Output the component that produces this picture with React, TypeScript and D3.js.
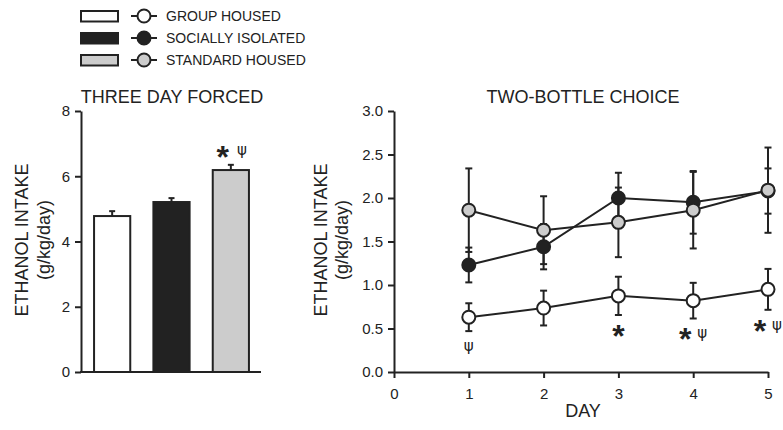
import { useEffect, useRef } from "react";
import * as d3 from "d3";

// legend / groups
const groups = ["GROUP HOUSED", "SOCIALLY ISOLATED", "STANDARD HOUSED"];
const groupFill = ["#ffffff", "#222222", "#cccccc"];

// three day forced (bar chart)
const forcedMean = [4.78, 5.21, 6.19];
const forcedErr = [0.15, 0.12, 0.16];
const forcedTicks = [0, 2, 4, 6, 8];

// two-bottle choice (line chart)
const days = [1, 2, 3, 4, 5];
const dayTicks = [0, 1, 2, 3, 4, 5];
const choiceTicks = [0, 0.5, 1.0, 1.5, 2.0, 2.5, 3.0];
const groupHousedMean = [0.63, 0.735, 0.875, 0.82, 0.95];
const groupHousedErr = [0.16, 0.2, 0.22, 0.205, 0.235];
const isolatedMean = [1.23, 1.44, 2.0, 1.95, 2.08];
const isolatedErr = [0.2, 0.26, 0.29, 0.36, 0.26];
const standardMean = [1.86, 1.63, 1.72, 1.86, 2.09];
const standardErr = [0.48, 0.39, 0.4, 0.44, 0.49];

// significance marks (under group housed points)
const dayStars = [false, false, true, true, true];
const dayPsi = [true, false, false, true, true];

const FONT = "'Liberation Sans', Arial, sans-serif";
const INK = "#222222";

const App = () => {
  const ref = useRef<SVGSVGElement>(null);

  useEffect(() => {
    const svg = d3.select(ref.current);
    svg.selectAll("*").remove();
    const root = svg.append("g").attr("font-family", FONT).attr("fill", INK);

    const star = (g: any, x: number, y: number) =>
      g.append("text").attr("x", x).attr("y", y).attr("text-anchor", "middle")
        .attr("font-size", 32).attr("font-weight", "bold").attr("fill", INK).text("*");
    const psi = (g: any, x: number, y: number) =>
      g.append("text").attr("x", x).attr("y", y).attr("text-anchor", "middle")
        .attr("font-family", "'DejaVu Sans', sans-serif")
        .attr("font-size", 15).attr("fill", INK).text("ψ");

    // ---- legend
    const leg = root.append("g");
    groups.forEach((name, i) => {
      const cy = 16 + i * 22;
      leg.append("rect").attr("x", 81).attr("y", cy - 5).attr("width", 37).attr("height", 10.5)
        .attr("fill", groupFill[i]).attr("stroke", INK).attr("stroke-width", 2);
      leg.append("line").attr("x1", 131).attr("x2", 157).attr("y1", cy).attr("y2", cy)
        .attr("stroke", INK).attr("stroke-width", 2);
      leg.append("circle").attr("cx", 144).attr("cy", cy).attr("r", 6.5)
        .attr("fill", groupFill[i]).attr("stroke", INK).attr("stroke-width", 2);
      leg.append("text").attr("x", 166).attr("y", cy).attr("dy", "0.36em")
        .attr("font-size", 14).text(name);
    });

    // ---- left: three day forced
    const yL = d3.scaleLinear().domain([0, 8]).range([372, 111]);
    const xL = d3.scaleBand<number>().domain([0, 1, 2]).range([81, 262])
      .paddingInner(0.39).paddingOuter(0.22);

    const left = root.append("g");
    const yAxisL = left.append("g").attr("transform", "translate(81,0)")
      .call(d3.axisLeft(yL).tickValues(forcedTicks).tickSize(6).tickSizeOuter(0).tickPadding(5));
    yAxisL.selectAll("text").attr("font-size", 15).attr("fill", INK).attr("font-family", FONT);
    yAxisL.selectAll("line,path").attr("stroke", INK).attr("stroke-width", 2);
    left.append("line").attr("x1", 80).attr("x2", 261).attr("y1", yL(0)).attr("y2", yL(0))
      .attr("stroke", INK).attr("stroke-width", 2);

    forcedMean.forEach((m, i) => {
      const cx = xL(i)! + xL.bandwidth() / 2;
      left.append("line").attr("x1", cx).attr("x2", cx).attr("y1", yL(m)).attr("y2", yL(m + forcedErr[i]))
        .attr("stroke", INK).attr("stroke-width", 2);
      left.append("line").attr("x1", cx - 3).attr("x2", cx + 3)
        .attr("y1", yL(m + forcedErr[i])).attr("y2", yL(m + forcedErr[i]))
        .attr("stroke", INK).attr("stroke-width", 2);
      left.append("rect").attr("x", xL(i)!).attr("y", yL(m)).attr("width", xL.bandwidth())
        .attr("height", yL(0) - yL(m)).attr("fill", groupFill[i]).attr("stroke", INK).attr("stroke-width", 2);
    });
    {
      const cx = xL(2)! + xL.bandwidth() / 2;
      const top = yL(forcedMean[2] + forcedErr[2]);
      star(left, cx - 8, top + 3);
      psi(left, cx + 11, top - 10);
    }
    left.append("text").attr("x", 172).attr("y", 97).attr("dy", "0.36em").attr("text-anchor", "middle")
      .attr("font-size", 18).text("THREE DAY FORCED");
    left.append("text").attr("transform", "translate(22,240) rotate(-90)").attr("dy", "0.36em")
      .attr("text-anchor", "middle").attr("font-size", 18).text("ETHANOL INTAKE");
    left.append("text").attr("transform", "translate(44,240) rotate(-90)").attr("dy", "0.36em")
      .attr("text-anchor", "middle").attr("font-size", 18).text("(g/kg/day)");

    // ---- right: two-bottle choice
    const yR = d3.scaleLinear().domain([0, 3]).range([372, 111]);
    const xR = d3.scaleLinear().domain([0, 5]).range([394, 768]);
    const right = root.append("g");

    const yAxisR = right.append("g").attr("transform", "translate(394,0)")
      .call(d3.axisLeft(yR).tickValues(choiceTicks).tickFormat(d3.format(".1f")).tickSize(6).tickSizeOuter(0).tickPadding(5));
    const xAxisR = right.append("g").attr("transform", `translate(0,${yR(0)})`)
      .call(d3.axisBottom(xR).tickValues(dayTicks).tickFormat(d3.format("d")).tickSize(6).tickSizeOuter(0).tickPadding(10));
    [yAxisR, xAxisR].forEach((a) => {
      a.selectAll("text").attr("font-size", 15).attr("fill", INK).attr("font-family", FONT);
      a.selectAll("line,path").attr("stroke", INK).attr("stroke-width", 2);
    });

    const series = [
      { mean: groupHousedMean, err: groupHousedErr, fill: groupFill[0] },
      { mean: isolatedMean, err: isolatedErr, fill: groupFill[1] },
      { mean: standardMean, err: standardErr, fill: groupFill[2] },
    ];
    const line = d3.line<number>().x((_, i) => xR(days[i])).y((d) => yR(d));

    series.forEach((s) => {
      right.append("path").attr("d", line(s.mean)).attr("fill", "none")
        .attr("stroke", INK).attr("stroke-width", 2);
    });
    series.forEach((s) => {
      s.mean.forEach((m, i) => {
        const cx = xR(days[i]);
        const hi = yR(m + s.err[i]);
        const lo = yR(m - s.err[i]);
        right.append("line").attr("x1", cx).attr("x2", cx).attr("y1", hi).attr("y2", lo)
          .attr("stroke", INK).attr("stroke-width", 2);
        [hi, lo].forEach((yy) => right.append("line").attr("x1", cx - 3.5).attr("x2", cx + 3.5)
          .attr("y1", yy).attr("y2", yy).attr("stroke", INK).attr("stroke-width", 2));
      });
    });
    series.forEach((s) => {
      s.mean.forEach((m, i) => {
        right.append("circle").attr("cx", xR(days[i])).attr("cy", yR(m)).attr("r", 6.5)
          .attr("fill", s.fill).attr("stroke", INK).attr("stroke-width", 2);
      });
    });

    days.forEach((d, i) => {
      const cx = xR(d);
      const lo = yR(groupHousedMean[i] - groupHousedErr[i]);
      const both = dayStars[i] && dayPsi[i];
      if (dayStars[i]) star(right, both ? cx - 8 : cx, lo + 32);
      if (dayPsi[i]) psi(right, both ? cx + 9 : cx, lo + 20);
    });

    right.append("text").attr("x", 583).attr("y", 97).attr("dy", "0.36em").attr("text-anchor", "middle")
      .attr("font-size", 18).text("TWO-BOTTLE CHOICE");
    right.append("text").attr("x", 583).attr("y", 411).attr("dy", "0.36em").attr("text-anchor", "middle")
      .attr("font-size", 18).text("DAY");
    right.append("text").attr("transform", "translate(321,240) rotate(-90)").attr("dy", "0.36em")
      .attr("text-anchor", "middle").attr("font-size", 18).text("ETHANOL INTAKE");
    right.append("text").attr("transform", "translate(342,240) rotate(-90)").attr("dy", "0.36em")
      .attr("text-anchor", "middle").attr("font-size", 18).text("(g/kg/day)");
  }, []);

  return (
    <svg ref={ref} width={783} height={430}
      style={{ position: "absolute", left: 0, top: 0, background: "#fff" }} />
  );
};

export default App;
